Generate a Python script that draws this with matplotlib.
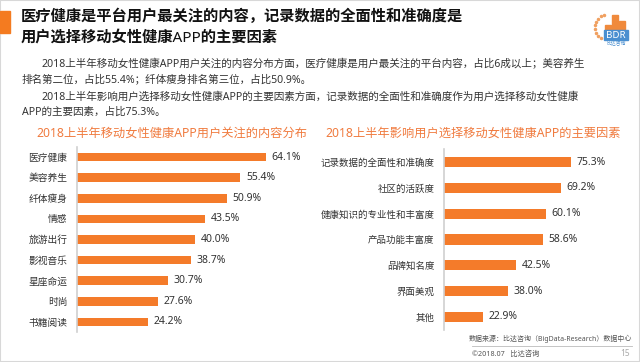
import math
import matplotlib
matplotlib.use("Agg")
from matplotlib import pyplot as plt
from matplotlib.patches import Rectangle

plt.rcParams['font.family'] = ['Noto Sans', 'Noto Sans CJK SC', 'DejaVu Sans']

# left chart data
content_cats = ['医疗健康', '美容养生', '纤体瘦身', '情感', '旅游出行', '影视音乐', '星座命运', '时尚', '书籍阅读']
content_vals = [64.1, 55.4, 50.9, 43.5, 40.0, 38.7, 30.7, 27.6, 24.2]

# right chart data
factor_cats = ['记录数据的全面性和准确度', '社区的活跃度', '健康知识的专业性和丰富度', '产品功能丰富度',
               '品牌知名度', '界面美观', '其他']
factor_vals = [75.3, 69.2, 60.1, 58.6, 42.5, 38.0, 22.9]

title_lines = ['医疗健康是平台用户最关注的内容，记录数据的全面性和准确度是',
               '用户选择移动女性健康APP的主要因素']
para = [
    ('2018上半年移动女性健康APP用户关注的内容分布方面，医疗健康是用户最关注的平台内容，占比6成以上；美容养生', 42),
    ('排名第二位，占比55.4%；纤体瘦身排名第三位，占比50.9%。', 22),
    ('2018上半年影响用户选择移动女性健康APP的主要因素方面，记录数据的全面性和准确度作为用户选择移动女性健康', 42),
    ('APP的主要因素，占比75.3%。', 22),
]

W, H = 640, 362
ORANGE = '#F47B2A'
TEXT = '#333333'

fig = plt.figure(figsize=(6.4, 3.62), dpi=100)


def fx(x):
    return x / W


def fy(y):
    return 1 - y / H


# frame and header block
fig.patches.append(Rectangle((0, 0), 1, 1, transform=fig.transFigure, fill=False,
                             edgecolor='#d8d8d8', lw=1.5))
fig.patches.append(Rectangle((0, fy(33)), fx(10), fy(11) - fy(33), transform=fig.transFigure,
                             color='#F47B20'))
fig.text(fx(21), fy(17), title_lines[0], fontsize=11, fontweight='bold', color='#111111', va='center')
fig.text(fx(21), fy(38), title_lines[1], fontsize=11, fontweight='bold', color='#111111', va='center')
ys = [65, 80, 97, 112]
for (line, x0), y in zip(para, ys):
    fig.text(fx(x0), fy(y), line, fontsize=7.6, color=TEXT, va='center')

# logo
lg = fig.add_axes([fx(592), fy(50), fx(38), fy(3) - fy(50)])
lg.set_xlim(0, 38)
lg.set_ylim(47, 0)
lg.axis('off')
for (x, y, w, h) in [(13, 22, 6, 14), (20, 12, 6, 24), (27, 18, 6, 18)]:
    lg.add_patch(Rectangle((x, y), w, h, color='#F08A3C'))
lg.add_patch(Rectangle((12, 27), 24, 10, color='#4A8FD0'))
lg.text(24, 32, 'BDR', color='white', fontsize=7, fontweight='bold', ha='center', va='center')
lg.text(24, 41, '比达咨询', color='#4A8FD0', fontsize=3.5, ha='center', va='center')
for i in range(9):
    a = math.radians(100 + i * 18)
    lg.plot(14 + 11 * math.cos(a), 24 - 12 * math.sin(a), 'o', ms=1.5, color='#F0A060')


def bar_panel(rect, cats, vals, xmax, title, title_xy, height, label_size, title_size):
    ax = fig.add_axes(rect)
    pos = list(range(len(cats)))
    ax.barh(pos, vals, height=height, color=ORANGE)
    ax.set_xlim(0, xmax)
    ax.set_ylim(len(cats) - 0.5, -0.5)
    ax.set_yticks(pos)
    ax.set_yticklabels(cats, fontsize=label_size, color=TEXT)
    ax.set_xticks([])
    ax.tick_params(axis='y', length=0, pad=7)
    for s in ['top', 'right', 'bottom']:
        ax.spines[s].set_visible(False)
    ax.spines['left'].set_color('#d0d0d0')
    ax.spines['left'].set_linewidth(1.2)
    ax.patch.set_alpha(0)
    for p, v in zip(pos, vals):
        ax.annotate('%.1f%%' % v, (v, p), xytext=(4, 0), textcoords='offset points',
                    va='center', ha='left', fontsize=7.5, color=TEXT)
    fig.text(fx(title_xy[0]), fy(title_xy[1]), title, fontsize=title_size, color='#F07B3F',
             ha='center', va='center')
    return ax


# left: axis at x=77, 2.95 px per %, rows 157..322
bar_panel([fx(77), fy(332.3), fx(80 * 2.95), (185.6) / H], content_cats, content_vals, 80,
          '2018上半年移动女性健康APP用户关注的内容分布', (172, 133), 0.42, 7.0, 8.8)
# right: axis at x=444, 1.69 px per %, rows 162..317
bar_panel([fx(444), fy(329.9), fx(100 * 1.69), (180.8) / H], factor_cats, factor_vals, 100,
          '2018上半年影响用户选择移动女性健康APP的主要因素', (473, 133), 0.4, 6.8, 8.8)

# source footer
fig.text(fx(632), fy(339), '数据来源：比达咨询（BigData-Research）数据中心', fontsize=5.0, color='#555555',
         va='center', ha='right')
fig.add_artist(plt.Line2D([fx(472), fx(632)], [fy(346), fy(346)], color='#bbbbbb', lw=0.6))
fig.text(fx(472), fy(354), '©2018.07   比达咨询', fontsize=5.2, color='#555555', va='center')
fig.text(fx(630), fy(354), '15', fontsize=6, color='#aaaaaa', va='center', ha='right')

fig.savefig('out.png', dpi=100)
